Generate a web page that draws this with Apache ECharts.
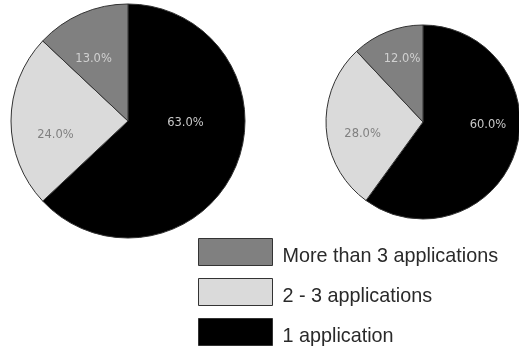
<!DOCTYPE html>
<html>
<head>
<meta charset="utf-8">
<script src="https://cdn.jsdelivr.net/npm/echarts@6/dist/echarts.min.js"></script>
<style>
  html, body { margin: 0; padding: 0; background: #fff; }
  #chart { width: 519px; height: 347px; }
</style>
</head>
<body>
<div id="chart"></div>
<script>
// Share of users by number of applications, two groups
const categories = ['1 application', '2 - 3 applications', 'More than 3 applications'];
const leftValues = [63, 24, 13];
const rightValues = [60, 28, 12];
const legendOrder = ['More than 3 applications', '2 - 3 applications', '1 application'];

const sliceColors = ['#000000', '#dadada', '#808080'];
const labelColors = ['#c8c8c8', '#808080', '#d0d0d0'];

// small nudges of the percentage labels away from the mid-angle spot
const leftNudge = [[1, -22], [-11, 14], [-10, -6]];
const rightNudge = [[16, -13], [-9, 9], [-2, -15]];

function buildData(values) {
  return categories.map((name, i) => ({
    name: name,
    value: values[i],
    itemStyle: { color: sliceColors[i] },
    label: { color: labelColors[i] }
  }));
}

function pieSeries(values, center, radius, nudge) {
  return {
    type: 'pie',
    center: center,
    radius: radius,
    startAngle: 90,
    clockwise: true,
    silent: true,
    animation: false,
    itemStyle: { borderColor: '#333', borderWidth: 1 },
    label: {
      show: true,
      position: 'inside',
      fontFamily: 'DejaVu Sans',
      fontSize: 11.5,
      formatter: p => p.value.toFixed(1) + '%'
    },
    labelLine: { show: false },
    labelLayout: p => ({ dx: nudge[p.dataIndex][0], dy: nudge[p.dataIndex][1] }),
    data: buildData(values)
  };
}

const chart = echarts.init(document.getElementById('chart'), null, { renderer: 'canvas' });
chart.setOption({
  backgroundColor: '#fff',
  legend: {
    orient: 'vertical',
    left: 198,
    top: 238,
    height: 120,
    padding: 0,
    itemWidth: 74,
    itemHeight: 27,
    itemGap: 11,
    icon: 'rect',
    selectedMode: false,
    data: legendOrder,
    itemStyle: { borderColor: '#333', borderWidth: 1 },
    formatter: name => '{t|' + name + '}',
    textStyle: {
      rich: {
        t: { fontFamily: 'Liberation Sans', fontSize: 19.8, color: '#2a2a2a', padding: [10, 0, 0, 5] }
      }
    }
  },
  series: [
    pieSeries(leftValues, [128, 121], 117, leftNudge),
    pieSeries(rightValues, [423, 122], 97, rightNudge)
  ]
});
</script>
</body>
</html>
